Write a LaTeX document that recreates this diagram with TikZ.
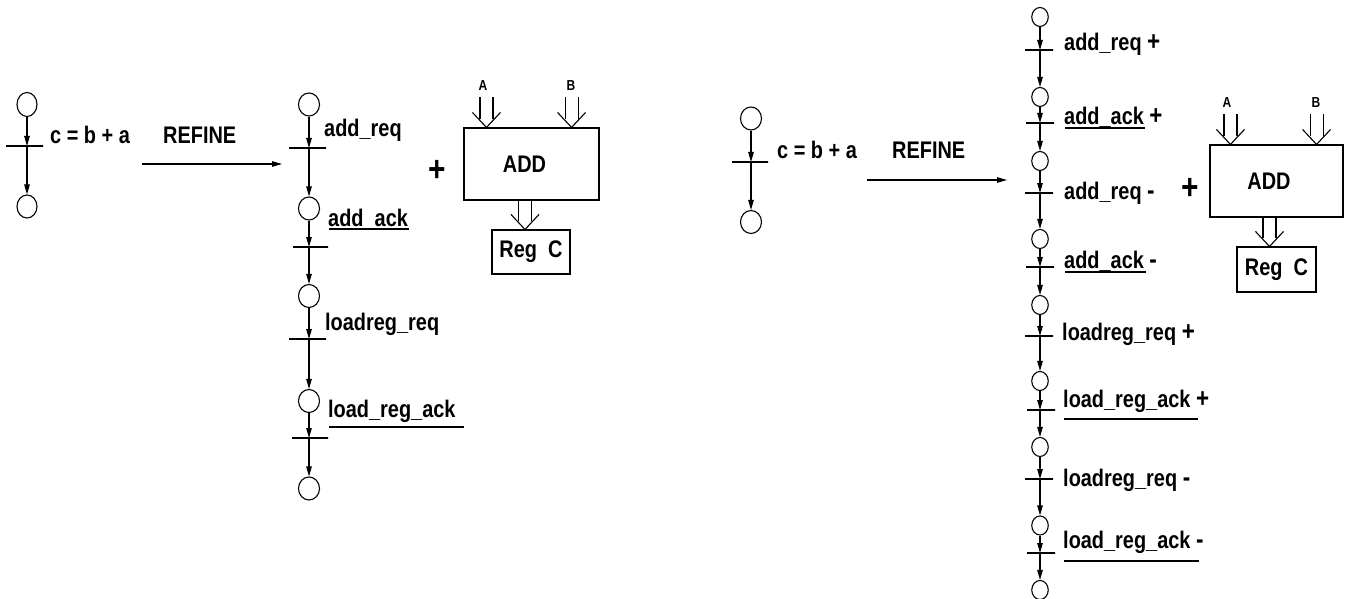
\documentclass[tikz,border=0pt]{standalone}
\usepackage{fontspec}
\setmainfont{Liberation Sans}[FakeStretch=0.83]
\usetikzlibrary{shapes.geometric,arrows.meta,calc}
\newcommand\sgn[1]{{\fontsize{27}{30}\selectfont #1}}
\begin{document}
\begin{tikzpicture}[x=1pt,y=-1pt,
  ln/.style={line width=1.1pt},
  arr/.style={ln,-{Triangle[length=10pt,width=5.5pt]}},
  place/.style={ellipse,draw,ln,inner sep=0pt,minimum width=21pt,minimum height=23pt},
  splace/.style={place,minimum width=16.5pt,minimum height=19pt},
  tbar/.style={draw,ln,inner sep=0pt,minimum height=0pt,minimum width=#1},
  tbar/.default=37pt,
  lbl/.style={inner sep=0pt,anchor=base west,font=\fontsize{24}{28}\selectfont\bfseries},
  big/.style={inner sep=0pt,font=\fontsize{36}{40}\selectfont\bfseries},
  small/.style={inner sep=0pt,anchor=base,font=\fontsize{14.5}{17}\selectfont\bfseries},
  box/.style={draw,ln,inner sep=0pt,font=\fontsize{24}{28}\selectfont\bfseries},
  uline/.style={ln},
  pics/bus/.style={code={
    \draw[ln] (-14,-15) -- (0,0) -- (14,-15);
    \draw[ln] (-6.5,-8) -- (-6.5,-30);
    \draw[ln] (6.5,-8) -- (6.5,-30);
  }}
]
\useasboundingbox (0,0) rectangle (1352,599);

% ---------- left: single transition ----------
\node[place,minimum width=20pt,minimum height=24pt] (p0a) at (27,104.5) {};
\node[tbar] (t0) at (24.5,146) {};
\node[place,minimum width=20pt,minimum height=23pt] (p0b) at (27,206.5) {};
\draw[arr] (p0a) -- (p0a |- t0);
\draw[arr] (p0a |- t0) -- (p0b);
\node[lbl] (eq1) at (50,143) {c = b + a};
\node[lbl] (ref1) at (163,143) {REFINE};
\coordinate (r1s) at (142,164);
\coordinate (r1e) at (282,164);
\draw[arr] (r1s) -- (r1e);

% ---------- left: refined chain ----------
\node[place] (p1) at (309,104.5) {};
\node[tbar] (t1) at (307.5,148) {};
\node[place] (p2) at (309,208.5) {};
\node[tbar=35pt] (t2) at (310.5,247) {};
\node[place] (p3) at (309,296) {};
\node[tbar] (t3) at (307.5,339) {};
\node[place] (p4) at (309,401) {};
\node[tbar=36pt] (t4) at (310,438) {};
\node[place] (p5) at (309,488.5) {};
\foreach \a/\t/\b in {p1/t1/p2,p2/t2/p3,p3/t3/p4,p4/t4/p5}{
  \draw[arr] (\a) -- (\a |- \t);
  \draw[arr] (\a |- \t) -- (\b);
}
\node[lbl] (l1) at (324,137) {add\_req};
\node[lbl] (l2) at (328,226) {add\_ack};
\node[lbl] (l3) at (325,330) {loadreg\_req};
\node[lbl] (l4) at (328,417) {load\_reg\_ack};
\draw[uline] (329,229) -- (409,229);
\draw[uline] (329,427) -- (464,427);

\node[big] (plusL) at (437,171) {+};
\node[box,minimum width=135pt,minimum height=72pt] (addL) at (531.5,164) {ADD\hspace*{14pt}};
\node[box,minimum width=78pt,minimum height=44pt] (regL) at (531,252) {Reg\ \ C};
\pic at ($(addL.north west)+(23,0)$) {bus};
\pic at ($(addL.north east)+(-28,0)$) {bus};
\pic at ($(regL.north)+(-6,0)$) {bus};
\node[small] (aL) at (483,91) {A};
\node[small] (bL) at (571,91) {B};

% ---------- right: single transition ----------
\node[place] (q0a) at (751,118.5) {};
\node[tbar=36pt] (u0) at (750,162) {};
\node[place] (q0b) at (751,222) {};
\draw[arr] (q0a) -- (q0a |- u0);
\draw[arr] (q0a |- u0) -- (q0b);
\node[lbl] (eq2) at (777,159) {c = b + a};
\node[lbl] (ref2) at (892,158) {REFINE};
\coordinate (r2s) at (867,180);
\coordinate (r2e) at (1007,180);
\draw[arr] (r2s) -- (r2e);

% ---------- right: refined chain ----------
\node[splace] (q1) at (1040,17) {};
\node[tbar=28pt] (u1) at (1039,50) {};
\node[splace] (q2) at (1040,97) {};
\node[tbar=28pt] (u2) at (1040,123) {};
\node[splace] (q3) at (1040,161) {};
\node[tbar=28pt] (u3) at (1039,193) {};
\node[splace] (q4) at (1040,239) {};
\node[tbar=28pt] (u4) at (1040,267) {};
\node[splace] (q5) at (1040,305) {};
\node[tbar=28pt] (u5) at (1039,336) {};
\node[splace] (q6) at (1040,381) {};
\node[tbar=28pt] (u6) at (1041,410) {};
\node[splace] (q7) at (1040,447) {};
\node[tbar=28pt] (u7) at (1039,479) {};
\node[splace] (q8) at (1040,525.5) {};
\node[tbar=28pt] (u8) at (1041,553) {};
\node[splace] (q9) at (1040,590) {};
\foreach \a/\t/\b in {q1/u1/q2,q2/u2/q3,q3/u3/q4,q4/u4/q5,q5/u5/q6,q6/u6/q7,q7/u7/q8,q8/u8/q9}{
  \draw[arr] (\a) -- (\a |- \t);
  \draw[arr] (\a |- \t) -- (\b);
}
\node[lbl] (m1) at (1064,51) {add\_req \sgn{+}};
\node[lbl] (m2) at (1064,125) {add\_ack \sgn{+}};
\node[lbl] (m3) at (1064,199) {add\_req \sgn{-}};
\node[lbl] (m4) at (1064,268) {add\_ack \sgn{-}};
\node[lbl] (m5) at (1062,340) {loadreg\_req \sgn{+}};
\node[lbl] (m6) at (1063,407) {load\_reg\_ack \sgn{+}};
\node[lbl] (m7) at (1063,486) {loadreg\_req \sgn{-}};
\node[lbl] (m8) at (1063,548) {load\_reg\_ack \sgn{-}};
\draw[uline] (1065,128) -- (1145,128);
\draw[uline] (1065,272) -- (1146,272);
\draw[uline] (1064,419) -- (1198,419);
\draw[uline] (1064,561) -- (1199,561);

\node[big] (plusR) at (1190,189) {+};
\node[box,minimum width=133pt,minimum height=72pt] (addR) at (1276.5,181) {ADD\hspace*{15pt}};
\node[box,minimum width=79pt,minimum height=45pt] (regR) at (1276.5,269.5) {Reg\ \ C};
\pic at ($(addR.north west)+(21,0)$) {bus};
\pic at ($(addR.north east)+(-27,0)$) {bus};
\pic at ($(regR.north)+(-7,0)$) {bus};
\node[small] (aR) at (1227,108) {A};
\node[small] (bR) at (1316,108) {B};
\end{tikzpicture}
\end{document}
